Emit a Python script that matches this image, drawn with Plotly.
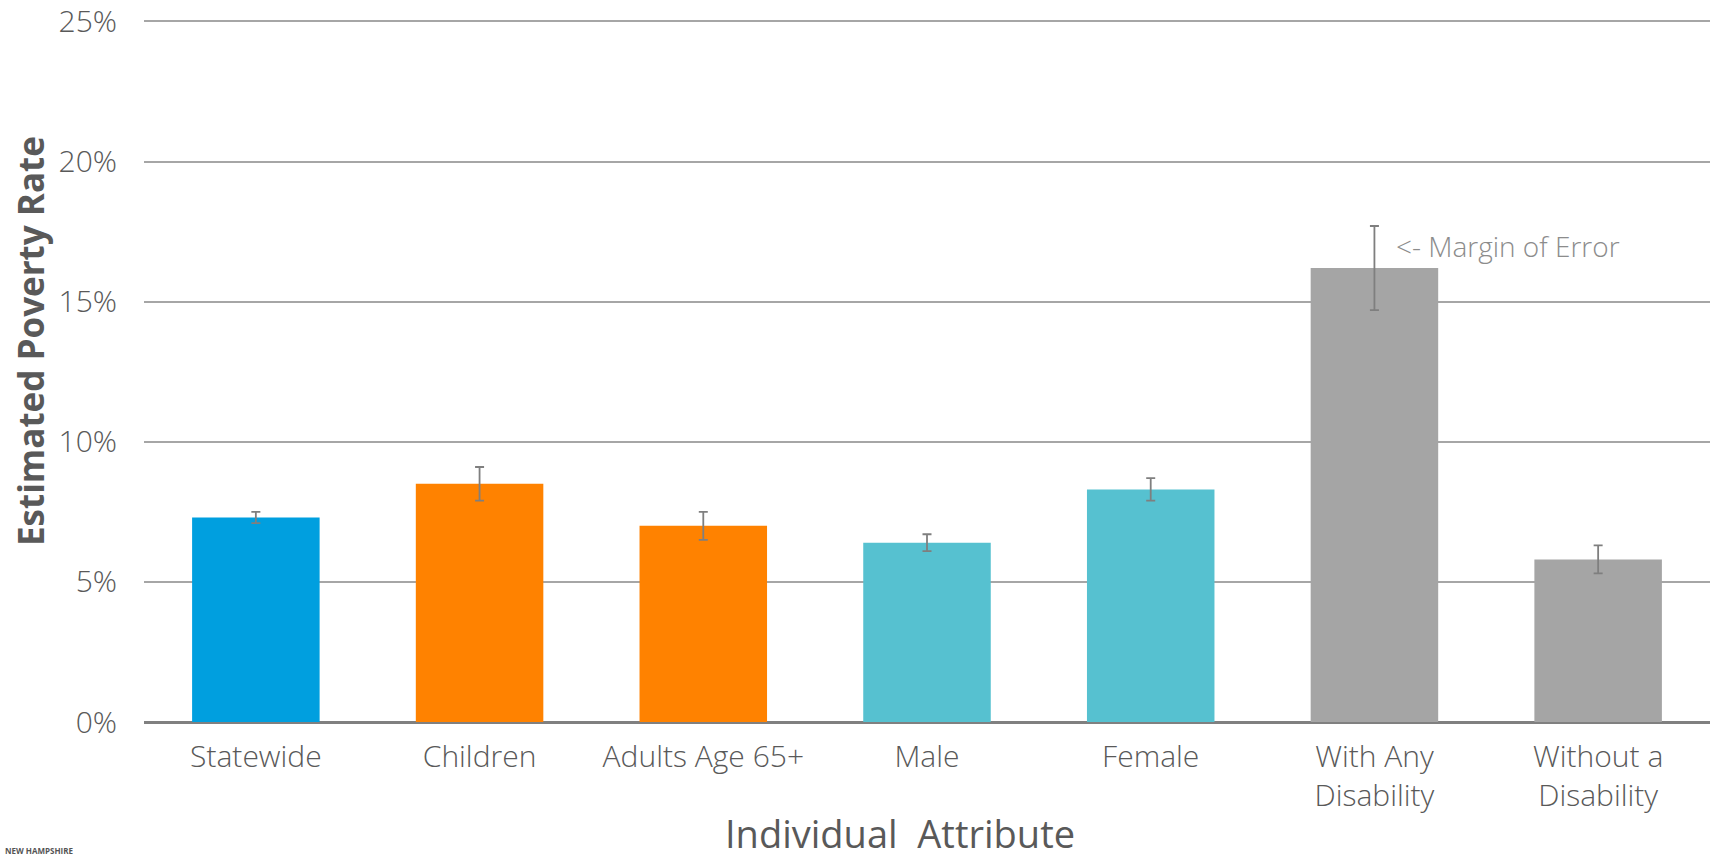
import plotly.graph_objects as go

categories = ["Statewide", "Children", "Adults Age 65+", "Male", "Female",
              "With Any<br>Disability", "Without a<br>Disability"]
rates = [7.3, 8.5, 7.0, 6.4, 8.3, 16.2, 5.8]
margins = [0.2, 0.6, 0.5, 0.3, 0.4, 1.5, 0.5]
colors = ["#009FDF", "#FF8200", "#FF8200", "#56C1D0", "#56C1D0", "#A5A5A5", "#A5A5A5"]
y_ticks = [0, 5, 10, 15, 20, 25]
y_tick_labels = ["0%", "5%", "10%", "15%", "20%", "25%"]

FONT = "Open Sans"
TXT = "#595959"

fig = go.Figure()
fig.add_trace(go.Bar(
    x=categories, y=rates,
    marker=dict(color=colors, line=dict(width=0)),
    error_y=dict(type="data", array=margins, visible=True,
                 color="#7F7F7F", thickness=1.8, width=4.5),
    showlegend=False,
))

fig.update_layout(
    width=1721, height=859,
    margin=dict(l=144, r=11, t=20, b=137, autoexpand=False),
    paper_bgcolor="white", plot_bgcolor="white",
    bargap=0.43,
    font=dict(family=FONT, color=TXT),
    xaxis=dict(
        automargin=False,
        showgrid=False, showline=False, zeroline=False,
        tickfont=dict(family=FONT, size=30, color=TXT, weight=300),
        ticks="outside", ticklen=8, tickcolor="rgba(0,0,0,0)",
    ),
    yaxis=dict(
        automargin=False,
        range=[0, 25.05], tickvals=y_ticks, ticktext=y_tick_labels,
        ticklabeloverflow="allow",
        showgrid=True, gridcolor="#A6A6A6", gridwidth=1.5,
        zeroline=True, zerolinecolor="#808080", zerolinewidth=2.5,
        showline=False,
        tickfont=dict(family=FONT, size=30, color=TXT, weight=300),
        ticklabelstandoff=26,
    ),
    annotations=[
        dict(x=5, y=17.0, xref="x", yref="y", xshift=20, xanchor="left",
             yanchor="middle", text="<- Margin of Error", showarrow=False,
             font=dict(family=FONT, size=28, color="#8C8C8C", weight=300)),
        dict(x=(900 - 144) / 1566, y=0, xref="paper", yref="paper", xanchor="center",
             yanchor="bottom", yshift=-138, borderpad=0,
             text="Individual\u00a0 Attribute", showarrow=False,
             font=dict(family=FONT, size=38, color=TXT, weight=500)),
        dict(x=(30 - 144) / 1566, y=(722 - 341) / 702, xref="paper", yref="paper",
             xanchor="center", yanchor="middle", textangle=-90,
             text="Estimated Poverty Rate", showarrow=False,
             font=dict(family=FONT, size=35, color=TXT, weight=700)),
        dict(x=-141 / 1566, y=-(137 - 1) / 702, xref="paper", yref="paper",
             xanchor="left", yanchor="bottom",
             text="<b>NEW HAMPSHIRE</b>", showarrow=False,
             font=dict(family=FONT, size=8, color="#555555")),
    ],
)

fig.write_html("out.html", config={"displayModeBar": False},
               post_script="document.body.style.margin='0';document.body.style.overflow='hidden';")
